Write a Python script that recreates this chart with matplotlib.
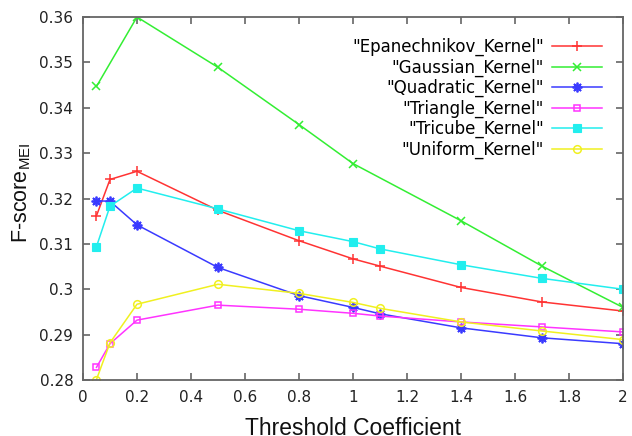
import matplotlib
matplotlib.use("Agg")
import matplotlib.pyplot as plt
from matplotlib.ticker import FuncFormatter

x_full = [0.05, 0.1, 0.2, 0.5, 0.8, 1.0, 1.1, 1.4, 1.7, 2.0]
x_gauss = [0.05, 0.2, 0.5, 0.8, 1.0, 1.4, 1.7, 2.0]

epanechnikov = [0.3162, 0.3242, 0.3260, 0.3174, 0.3107, 0.3067, 0.3051, 0.3004, 0.2972, 0.2952]
gaussian = [0.3447, 0.3600, 0.3489, 0.3363, 0.3277, 0.3151, 0.3051, 0.2960]
quadratic = [0.3195, 0.3194, 0.3142, 0.3048, 0.2986, 0.2960, 0.2946, 0.2915, 0.2893, 0.2880]
triangle = [0.2828, 0.2880, 0.2932, 0.2965, 0.2956, 0.2947, 0.2941, 0.2928, 0.2917, 0.2906]
tricube = [0.3094, 0.3183, 0.3223, 0.3177, 0.3129, 0.3105, 0.3089, 0.3054, 0.3024, 0.3000]
uniform = [0.2801, 0.2882, 0.2967, 0.3011, 0.2991, 0.2971, 0.2958, 0.2928, 0.2908, 0.2889]

labels = ['"Epanechnikov_Kernel"', '"Gaussian_Kernel"', '"Quadratic_Kernel"',
          '"Triangle_Kernel"', '"Tricube_Kernel"', '"Uniform_Kernel"']

x_ticks = [0, 0.2, 0.4, 0.6, 0.8, 1.0, 1.2, 1.4, 1.6, 1.8, 2.0]
y_ticks = [0.28, 0.29, 0.30, 0.31, 0.32, 0.33, 0.34, 0.35, 0.36]

plt.rcParams['font.family'] = ['DejaVu Sans']

fig = plt.figure(figsize=(6.32, 4.36), dpi=100)
ax = fig.add_axes([0.1313, 0.1284, 0.8545, 0.8326])

lw = 1.1
ax.plot(x_full, epanechnikov, color='#ff3333', marker='+', ms=7, mew=1.1, lw=lw, label=labels[0])
ax.plot(x_gauss, gaussian, color='#33ee33', marker='x', ms=5.5, mew=1.1, lw=lw, label=labels[1])
ax.plot(x_full, quadratic, color='#3a3aff', marker=(8, 2, 0), ms=7, mew=1.3, lw=lw, label=labels[2])
ax.plot(x_full, triangle, color='#ff33ff', marker='s', ms=5, mew=1.1, fillstyle='none', lw=lw, label=labels[3])
ax.plot(x_full, tricube, color='#22eeee', marker='s', ms=5.5, mew=0.8, lw=lw, label=labels[4])
ax.plot(x_full, uniform, color='#f0f020', marker='o', ms=5.5, mew=1.1, fillstyle='none', lw=lw, label=labels[5])

ax.set_xlim(0, 2)
ax.set_ylim(0.28, 0.36)
ax.set_xticks(x_ticks)
ax.set_yticks(y_ticks)
ax.xaxis.set_major_formatter(FuncFormatter(lambda v, p: '%g' % round(v, 3)))
ax.yaxis.set_major_formatter(FuncFormatter(lambda v, p: '%g' % round(v, 3)))
ax.tick_params(direction='in', length=5, width=1.2, color='#666666', top=True, right=True,
               labelsize=11, labelcolor='#222222', pad=7)
for s in ax.spines.values():
    s.set_color('#666666')
    s.set_linewidth(1.3)

ax.set_xlabel('Threshold Coefficient', fontsize=16.5, family='Liberation Sans', labelpad=9, color='#111111')
ax.set_ylabel('F-score$_\\mathregular{MEI}$', fontsize=15.5, family='Liberation Sans', color='#111111')
ax.yaxis.set_label_coords(-0.092, 0.515)

leg = ax.legend(loc='upper right', frameon=False, markerfirst=False, fontsize=12,
                handlelength=3.0, labelspacing=0.14, borderaxespad=0.85, handletextpad=0.5)

fig.savefig('out.png', dpi=100)
